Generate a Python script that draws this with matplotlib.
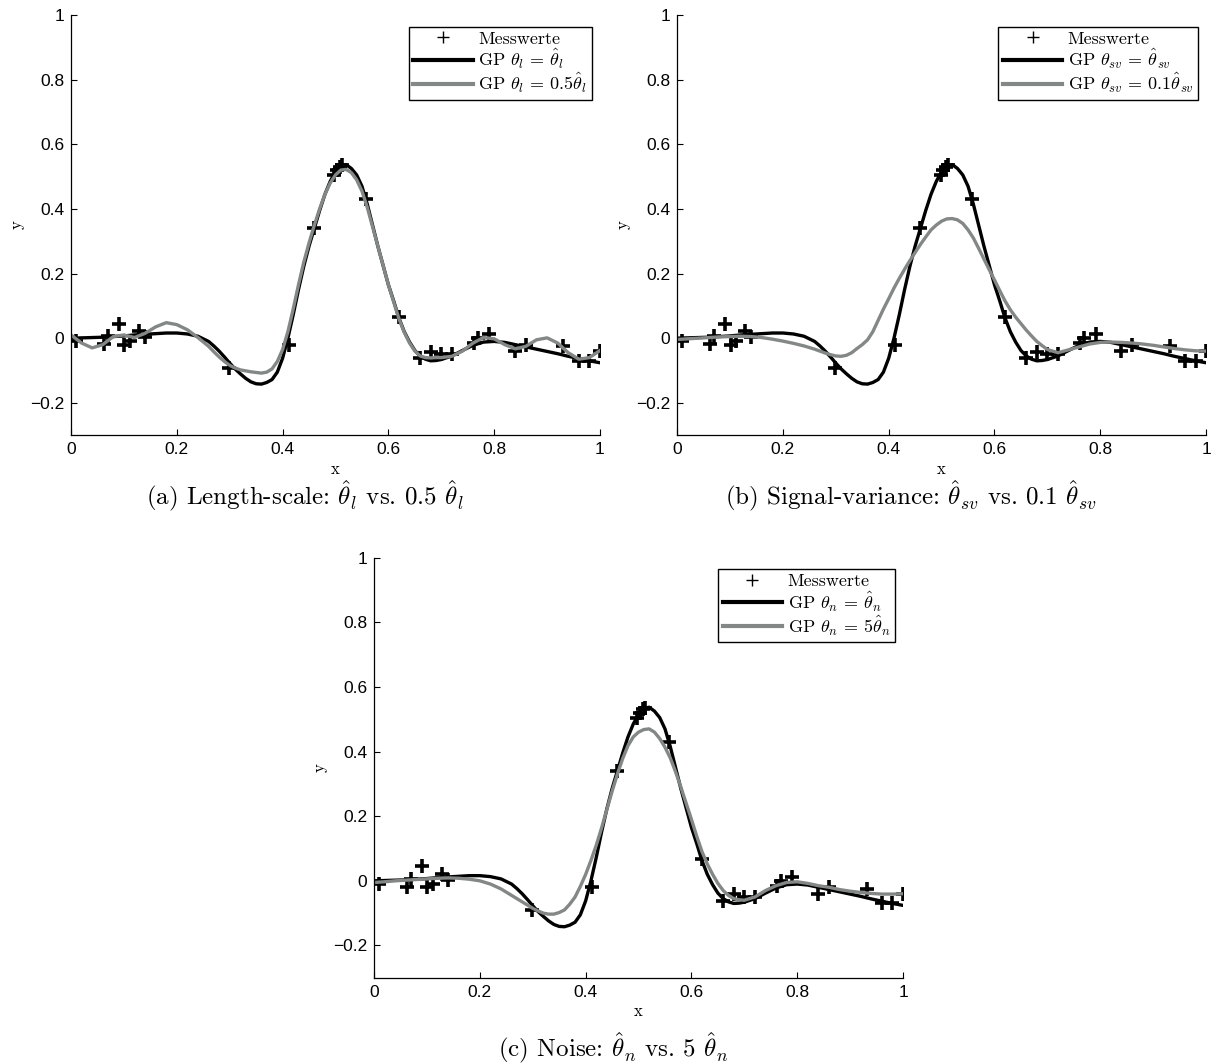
import numpy as np
import matplotlib
matplotlib.use("Agg")
import matplotlib.pyplot as plt
from matplotlib.lines import Line2D

plt.rcParams['font.family'] = ['Liberation Sans', 'DejaVu Sans']
plt.rcParams['mathtext.fontset'] = 'cm'
plt.rcParams['axes.unicode_minus'] = True

SERIF = 'cmr10'

# measured points (same in all three panels)
mess_x = [0.009, 0.062, 0.070, 0.091, 0.101, 0.111, 0.129, 0.139, 0.299, 0.412,
          0.459, 0.498, 0.503, 0.508, 0.513, 0.558, 0.620, 0.660, 0.680, 0.700,
          0.720, 0.762, 0.769, 0.791, 0.840, 0.860, 0.931, 0.960, 0.980, 1.000]
mess_y = [-0.009, -0.018, 0.006, 0.045, -0.020, -0.009, 0.022, 0.004, -0.091, -0.020,
          0.340, 0.505, 0.520, 0.530, 0.535, 0.430, 0.066, -0.061, -0.042, -0.049,
          -0.050, -0.015, 0.000, 0.012, -0.040, -0.020, -0.025, -0.070, -0.070, -0.040]

# x positions where the GP curves were read (finer around the peak)
gp_x = ([i / 50 for i in range(14)] + [i / 100 for i in range(27, 71)]
        + [i / 50 for i in range(36, 51)])

gp_best = [0.000, 0.001, 0.002, 0.003, 0.005, 0.007, 0.010, 0.012, 0.014, 0.016,
           0.016, 0.013, 0.006, -0.010,
           -0.024, -0.040, -0.058, -0.077, -0.095, -0.110, -0.124, -0.135, -0.141, -0.142,
           -0.137, -0.128, -0.105, -0.062, 0.000, 0.072, 0.150, 0.222, 0.285, 0.340,
           0.395, 0.445, 0.485, 0.515, 0.533, 0.537, 0.525, 0.505, 0.470, 0.415,
           0.350, 0.285, 0.225, 0.165, 0.115, 0.062, 0.020, -0.012, -0.038, -0.055,
           -0.065, -0.070, -0.069, -0.066,
           -0.055, -0.038, -0.022, -0.012, -0.010, -0.013, -0.020, -0.027, -0.034, -0.041,
           -0.048, -0.056, -0.063, -0.070, -0.076]

gp_len05 = [0.010, -0.015, -0.030, -0.020, 0.005, 0.010, 0.002, 0.015, 0.035, 0.048,
            0.042, 0.026, 0.002, -0.025,
            -0.042, -0.058, -0.072, -0.084, -0.092, -0.098, -0.101, -0.104, -0.106, -0.108,
            -0.105, -0.095, -0.072, -0.035, 0.020, 0.090, 0.165, 0.235, 0.295, 0.350,
            0.400, 0.445, 0.480, 0.505, 0.520, 0.522, 0.512, 0.490, 0.455, 0.405,
            0.345, 0.285, 0.225, 0.165, 0.112, 0.060, 0.018, -0.015, -0.040, -0.055,
            -0.060, -0.061, -0.060, -0.060,
            -0.056, -0.040, -0.015, 0.002, -0.002, -0.020, -0.033, -0.025, -0.005, 0.001,
            -0.015, -0.045, -0.065, -0.060, -0.038]

gp_sv01 = [-0.004, -0.002, 0.000, 0.002, 0.004, 0.005, 0.006, 0.005, 0.002, -0.003,
           -0.009, -0.016, -0.024, -0.034,
           -0.040, -0.046, -0.051, -0.055, -0.056, -0.053, -0.045, -0.032, -0.020, -0.005,
           0.020, 0.055, 0.090, 0.122, 0.155, 0.185, 0.213, 0.240, 0.265, 0.290,
           0.313, 0.335, 0.350, 0.362, 0.369, 0.370, 0.366, 0.355, 0.335, 0.310,
           0.278, 0.245, 0.212, 0.180, 0.147, 0.115, 0.088, 0.065, 0.045, 0.025,
           0.007, -0.010, -0.023, -0.035,
           -0.045, -0.036, -0.027, -0.018, -0.013, -0.012, -0.013, -0.015, -0.018, -0.022,
           -0.027, -0.032, -0.036, -0.039, -0.040]

gp_n5 = [-0.005, -0.003, 0.000, 0.002, 0.004, 0.006, 0.008, 0.009, 0.008, 0.005,
         0.000, -0.010, -0.025, -0.045,
         -0.055, -0.065, -0.075, -0.085, -0.093, -0.100, -0.103, -0.103, -0.098, -0.090,
         -0.072, -0.050, -0.017, 0.020, 0.063, 0.110, 0.163, 0.220, 0.277, 0.330,
         0.378, 0.418, 0.445, 0.460, 0.468, 0.470, 0.460, 0.440, 0.413, 0.380,
         0.337, 0.290, 0.240, 0.190, 0.138, 0.090, 0.052, 0.020, -0.008, -0.030,
         -0.045, -0.055, -0.059, -0.060,
         -0.050, -0.030, -0.015, -0.005, -0.003, -0.008, -0.015, -0.020, -0.027, -0.032,
         -0.036, -0.039, -0.041, -0.041, -0.040]

panels = [
    ([0.0582, 0.591, 0.4336, 0.395], gp_len05,
     [r'GP $\theta_l \,=\, \hat{\theta}_l$', r'GP $\theta_l \,=\, 0.5\hat{\theta}_l$'],
     r'(a) Length-scale: $\hat{\theta}_l$ vs. 0.5 $\hat{\theta}_l$', (0.250, 0.5338)),
    ([0.555, 0.591, 0.4336, 0.395], gp_sv01,
     [r'GP $\theta_{sv} \,=\, \hat{\theta}_{sv}$', r'GP $\theta_{sv} \,=\, 0.1\hat{\theta}_{sv}$'],
     r'(b) Signal-variance: $\hat{\theta}_{sv}$ vs. 0.1 $\hat{\theta}_{sv}$', (0.7467, 0.5338)),
    ([0.3066, 0.081, 0.4336, 0.395], gp_n5,
     [r'GP $\theta_n \,=\, \hat{\theta}_n$', r'GP $\theta_n \,=\, 5\hat{\theta}_n$'],
     r'(c) Noise: $\hat{\theta}_n$ vs. 5 $\hat{\theta}_n$', (0.5025, 0.0145)),
]

black = '#000000'
grey = '#838887'

fig = plt.figure(figsize=(12.2, 10.64), dpi=100)

for rect, gp_alt, labels, caption, cap_pos in panels:
    ax = fig.add_axes(rect)
    ax.plot(mess_x, mess_y, ls='none', marker='+', ms=10, mew=2.6, color=black)
    ax.plot(gp_x, gp_best, color=black, lw=2.4)
    ax.plot(gp_x, gp_alt, color=grey, lw=2.4)

    ax.set_xlim(0, 1)
    ax.set_ylim(-0.3, 1)
    ax.set_xticks([0, 0.2, 0.4, 0.6, 0.8, 1])
    ax.set_xticklabels(['0', '0.2', '0.4', '0.6', '0.8', '1'])
    ax.set_yticks([-0.2, 0, 0.2, 0.4, 0.6, 0.8, 1])
    ax.set_yticklabels(['\u22120.2', '0', '0.2', '0.4', '0.6', '0.8', '1'])
    ax.tick_params(direction='in', length=4, width=0.8, labelsize=12.5, pad=5)
    for s in ['top', 'right']:
        ax.spines[s].set_visible(False)
    for s in ['left', 'bottom']:
        ax.spines[s].set_linewidth(0.9)

    ax.set_xlabel('x', fontfamily=SERIF, fontsize=12, labelpad=3)
    ax.set_ylabel('y', fontfamily=SERIF, fontsize=12, labelpad=4)

    handles = [Line2D([], [], ls='none', marker='+', ms=9, mew=1.0, color=black),
               Line2D([], [], color=black, lw=3),
               Line2D([], [], color=grey, lw=3)]
    leg = ax.legend(handles, ['Messwerte'] + labels, loc='upper right',
                    bbox_to_anchor=(0.985, 0.972), borderaxespad=0,
                    prop={'family': SERIF, 'size': 13}, fancybox=False,
                    edgecolor='black', framealpha=1, handlelength=3.3,
                    handletextpad=0.3, labelspacing=0.0, borderpad=0.25)
    leg.get_frame().set_linewidth(1.0)

    fig.text(cap_pos[0], cap_pos[1], caption, ha='center', va='center',
             fontfamily=SERIF, fontsize=18)

fig.savefig('out.png', dpi=100)
